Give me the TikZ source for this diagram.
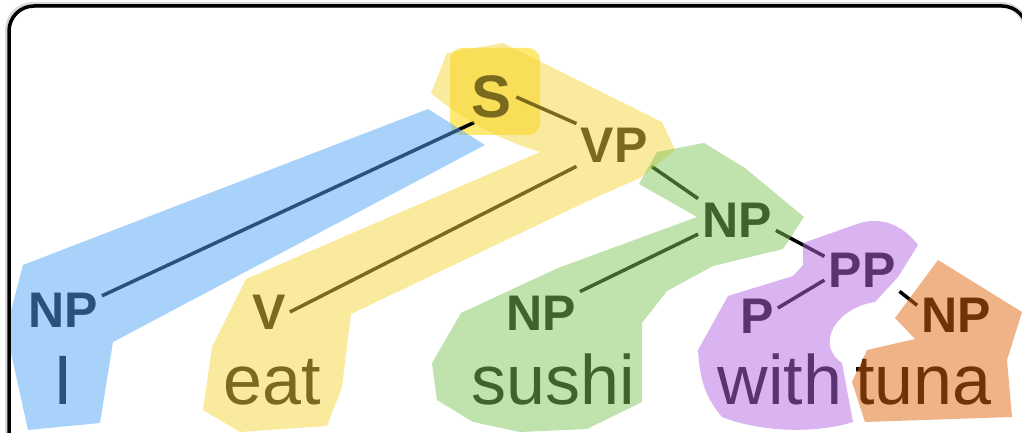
\documentclass[tikz,border=0pt]{standalone}
\usepackage{fontspec}
\newfontfamily\treefont{Liberation Sans}
\definecolor{hullblue}{HTML}{51A5F5}
\definecolor{hullyellow}{HTML}{F5D53B}
\definecolor{hullgreen}{HTML}{81C559}
\definecolor{hullpurple}{HTML}{B569E1}
\definecolor{hullorange}{HTML}{DF670F}
\definecolor{sbox}{HTML}{FFE975}

\begin{document}
\begin{tikzpicture}[
    x=1pt, y=-1pt,
    % Category labels of the tree
    cat/.style={
        font=\treefont\bfseries\fontsize{50}{60}\selectfont,
        inner sep=4pt
    },
    % Words under the tree
    word/.style={
        font=\treefont\fontsize{70}{84}\selectfont,
        inner sep=0pt,
        anchor=base
    },
    % Branches
    branch/.style={line width=3.5pt},
    % Translucent constituent hulls
    hull/.style={fill=#1, fill opacity=0.5}
    ]

    \useasboundingbox (0,0) rectangle (1022,433);
    \clip (0,0) rectangle (1022,433);

    % Box behind the root
    \fill[sbox, rounded corners=12pt] (450,48) rectangle (540,135);

    % Category nodes
    \node[cat, font=\treefont\bfseries\fontsize{60}{72}\selectfont] (nS) at (492,97) {S};
    \node[cat] (nVP) at (614,145) {VP};
    \node[cat] (nNPi) at (63,310) {NP};
    \node[cat] (nV) at (269,312) {V};
    \node[cat] (nNPo) at (737,220) {NP};
    \node[cat] (nNPs) at (541,313) {NP};
    \node[cat] (nPP) at (862,270) {PP};
    \node[cat] (nP) at (757,316) {P};
    \node[cat] (nNPt) at (956,315) {NP};

    % Words
    \node[word] (wI) at (63.5,404) {I};
    \node[word] (wEat) at (272,404) {eat};
    \node[word] (wSushi) at (553,404) {sushi};
    \node[word] (wWith) at (780,404) {with};
    \node[word] (wTuna) at (923.5,404) {tuna};

    % Branches
    \draw[branch] (nS.-125) -- (nNPi.20);
    \draw[branch] (nS.east) -- (nVP.north west);
    \draw[branch] (nVP.south west) -- (nV.east);
    \draw[branch] (nVP.south east) -- (nNPo.north west);
    \draw[branch] (nNPo.-160) -- (nNPs.north east);
    \draw[branch] (nNPo.-15) -- (nPP.160);
    \draw[branch] (nPP.-165) -- (nP.21);
    \draw[branch] (nPP.south east) -- (nNPt.166);

    % Hulls over the tree
    \fill[hull=hullblue] (23,265) -- (428,109) -- (485,145) -- (113,342)
        -- (100,423) -- (28,430) -- (6,330) -- cycle;
    \fill[hull=hullyellow] (447,53) -- (503,43) -- (662,122) -- (675,150)
        -- (640,178) -- (590,200) -- (351,314) -- (342,387) -- (327,426)
        -- (240,432) -- (203,410) -- (212,347) -- (246,279) -- (540,152)
        .. controls (500,140) and (460,118) .. (431,93) -- cycle;
    \fill[hull=hullgreen] (657,152) -- (704,143) -- (745,168) -- (804,217)
        -- (783,249) -- (713,266) -- (667,291) -- (642,323) -- (642,402)
        -- (587,429) -- (520,432) -- (473,422) -- (437,400) -- (432,363)
        -- (461,313) -- (558,268) -- (697,217) -- (639,184) -- cycle;
    \fill[hull=hullpurple] (803,243) -- (860,223)
        .. controls (885,216) and (905,228) .. (918,245) -- (898,277)
        -- (875,302) .. controls (835,308) and (815,345) .. (842,363)
        -- (853,422) .. controls (815,434) and (760,432) .. (722,417)
        .. controls (708,400) and (700,385) .. (698,350) -- (728,296)
        -- (793,276) -- (803,265) -- cycle;
    \fill[hull=hullorange] (938,260) -- (1022,312) -- (1007,360) -- (1012,417)
        -- (865,422) -- (852,382) -- (867,350) -- (915,339) -- (895,318) -- cycle;

    % Frame with a faint shadow
    \draw[black!15, line width=6pt, rounded corners=25pt] (8,5) rectangle (1026,479);
    \draw[line width=3.5pt, rounded corners=25pt] (9,6) rectangle (1027,480);

\end{tikzpicture}
\end{document}
